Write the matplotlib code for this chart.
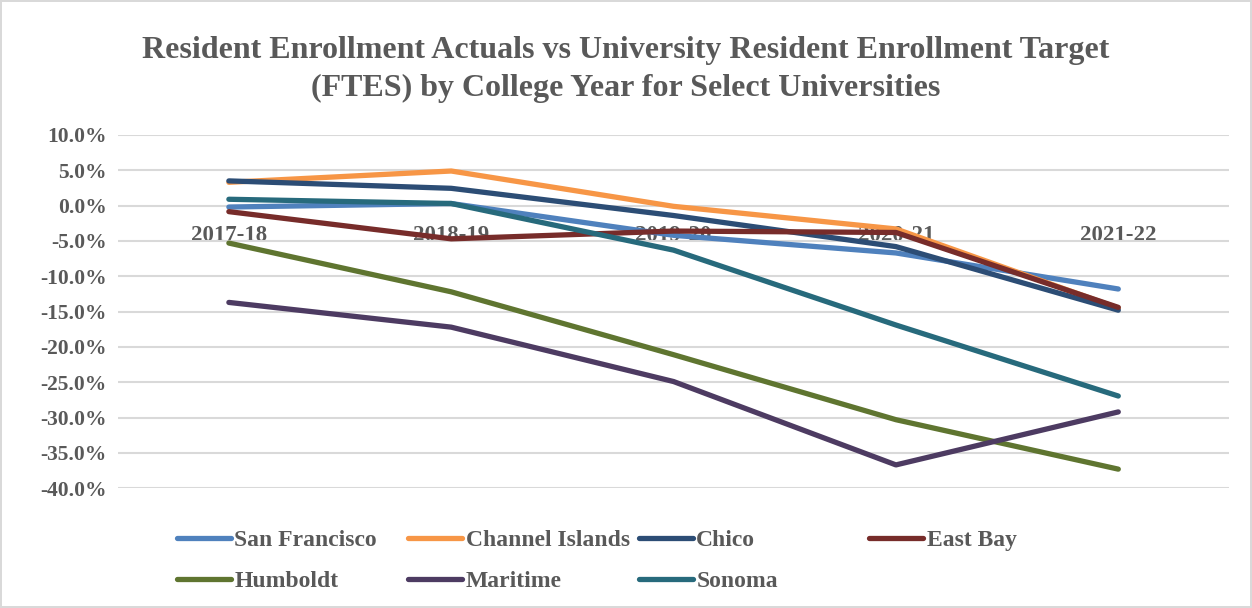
import numpy as np
import matplotlib
matplotlib.use("Agg")
import matplotlib.pyplot as plt

# -------------------------------------------------------
# DATA
# -------------------------------------------------------

years = ["2017-18", "2018-19", "2019-20", "2020-21", "2021-22"]

san_francisco = [-0.2, 0.3, -4.2, -6.7, -11.8]
channel_islands = [3.3, 4.9, -0.1, -3.3, -14.5]
chico = [3.5, 2.45, -1.4, -5.8, -14.8]
east_bay = [-0.85, -4.7, -3.6, -3.8, -14.4]
humboldt = [-5.3, -12.2, -21.1, -30.3, -37.3]
maritime = [-13.7, -17.2, -24.9, -36.7, -29.2]
sonoma = [0.9, 0.3, -6.3, -16.9, -26.95]

series_names = ["San Francisco", "Channel Islands", "Chico", "East Bay",
                "Humboldt", "Maritime", "Sonoma"]
series_values = [san_francisco, channel_islands, chico, east_bay,
                 humboldt, maritime, sonoma]
series_colors = ["#4F81BD", "#F79646", "#2C4D75", "#772C2A",
                 "#5F7530", "#4D3B62", "#276A7C"]

# -------------------------------------------------------
# PLOT
# -------------------------------------------------------

plt.rcParams["font.family"] = ["Liberation Serif", "DejaVu Serif"]
text_color = "#595959"

fig = plt.figure(figsize=(12.52, 6.08), dpi=100)
fig.patch.set_edgecolor("#D9D9D9")
fig.patch.set_linewidth(1.5)

ax = fig.add_axes([0.094, 0.197, 0.888, 0.581])

x = np.arange(len(years))
lines = []
for name, vals, col in zip(series_names, series_values, series_colors):
    ln, = ax.plot(x, vals, color=col, lw=3.8, label=name,
                  solid_capstyle="round", solid_joinstyle="round")
    lines.append(ln)

ax.set_xlim(-0.5, len(years) - 0.5)
ax.set_ylim(-40, 10)
ax.set_yticks(np.arange(-40, 10.1, 5))
ax.set_yticklabels([f"{v:.1f}%" for v in np.arange(-40, 10.1, 5)])
ax.yaxis.grid(True, color="#D9D9D9", lw=1.5)
ax.set_axisbelow(True)

# category axis crosses at zero
ax.spines["bottom"].set_position(("data", 0))
ax.spines["bottom"].set_visible(False)
for s in ["top", "right", "left"]:
    ax.spines[s].set_visible(False)

ax.set_xticks(x)
ax.set_xticklabels(years)
ax.tick_params(axis="x", length=0, pad=14)
ax.tick_params(axis="y", length=0, pad=8)
for lab in ax.get_xticklabels():
    lab.set_fontsize(16.5)
    lab.set_fontweight("bold")
    lab.set_color(text_color)
for lab in ax.get_yticklabels():
    lab.set_fontsize(15.5)
    lab.set_fontweight("bold")
    lab.set_color(text_color)

fig.text(0.5, 0.886,
         "Resident Enrollment Actuals vs University Resident Enrollment Target\n"
         "(FTES) by College Year for Select Universities",
         ha="center", va="center", fontsize=23, fontweight="bold",
         color=text_color, linespacing=1.42)

# legend: fixed-width columns, filled row by row
col_x = [0.141, 0.326, 0.510, 0.694]
row_y = [1 - 540 / 608, 1 - 581 / 608]
for i, ln in enumerate(lines):
    r, c = divmod(i, 4)
    leg = fig.legend(handles=[ln], loc="center left",
                     bbox_to_anchor=(col_x[c], row_y[r]),
                     frameon=False, borderpad=0, borderaxespad=0,
                     handlelength=2.3, handletextpad=0.15,
                     prop={"size": 17, "weight": "bold"})
    for t in leg.get_texts():
        t.set_color(text_color)

fig.savefig("out.png", dpi=100)
